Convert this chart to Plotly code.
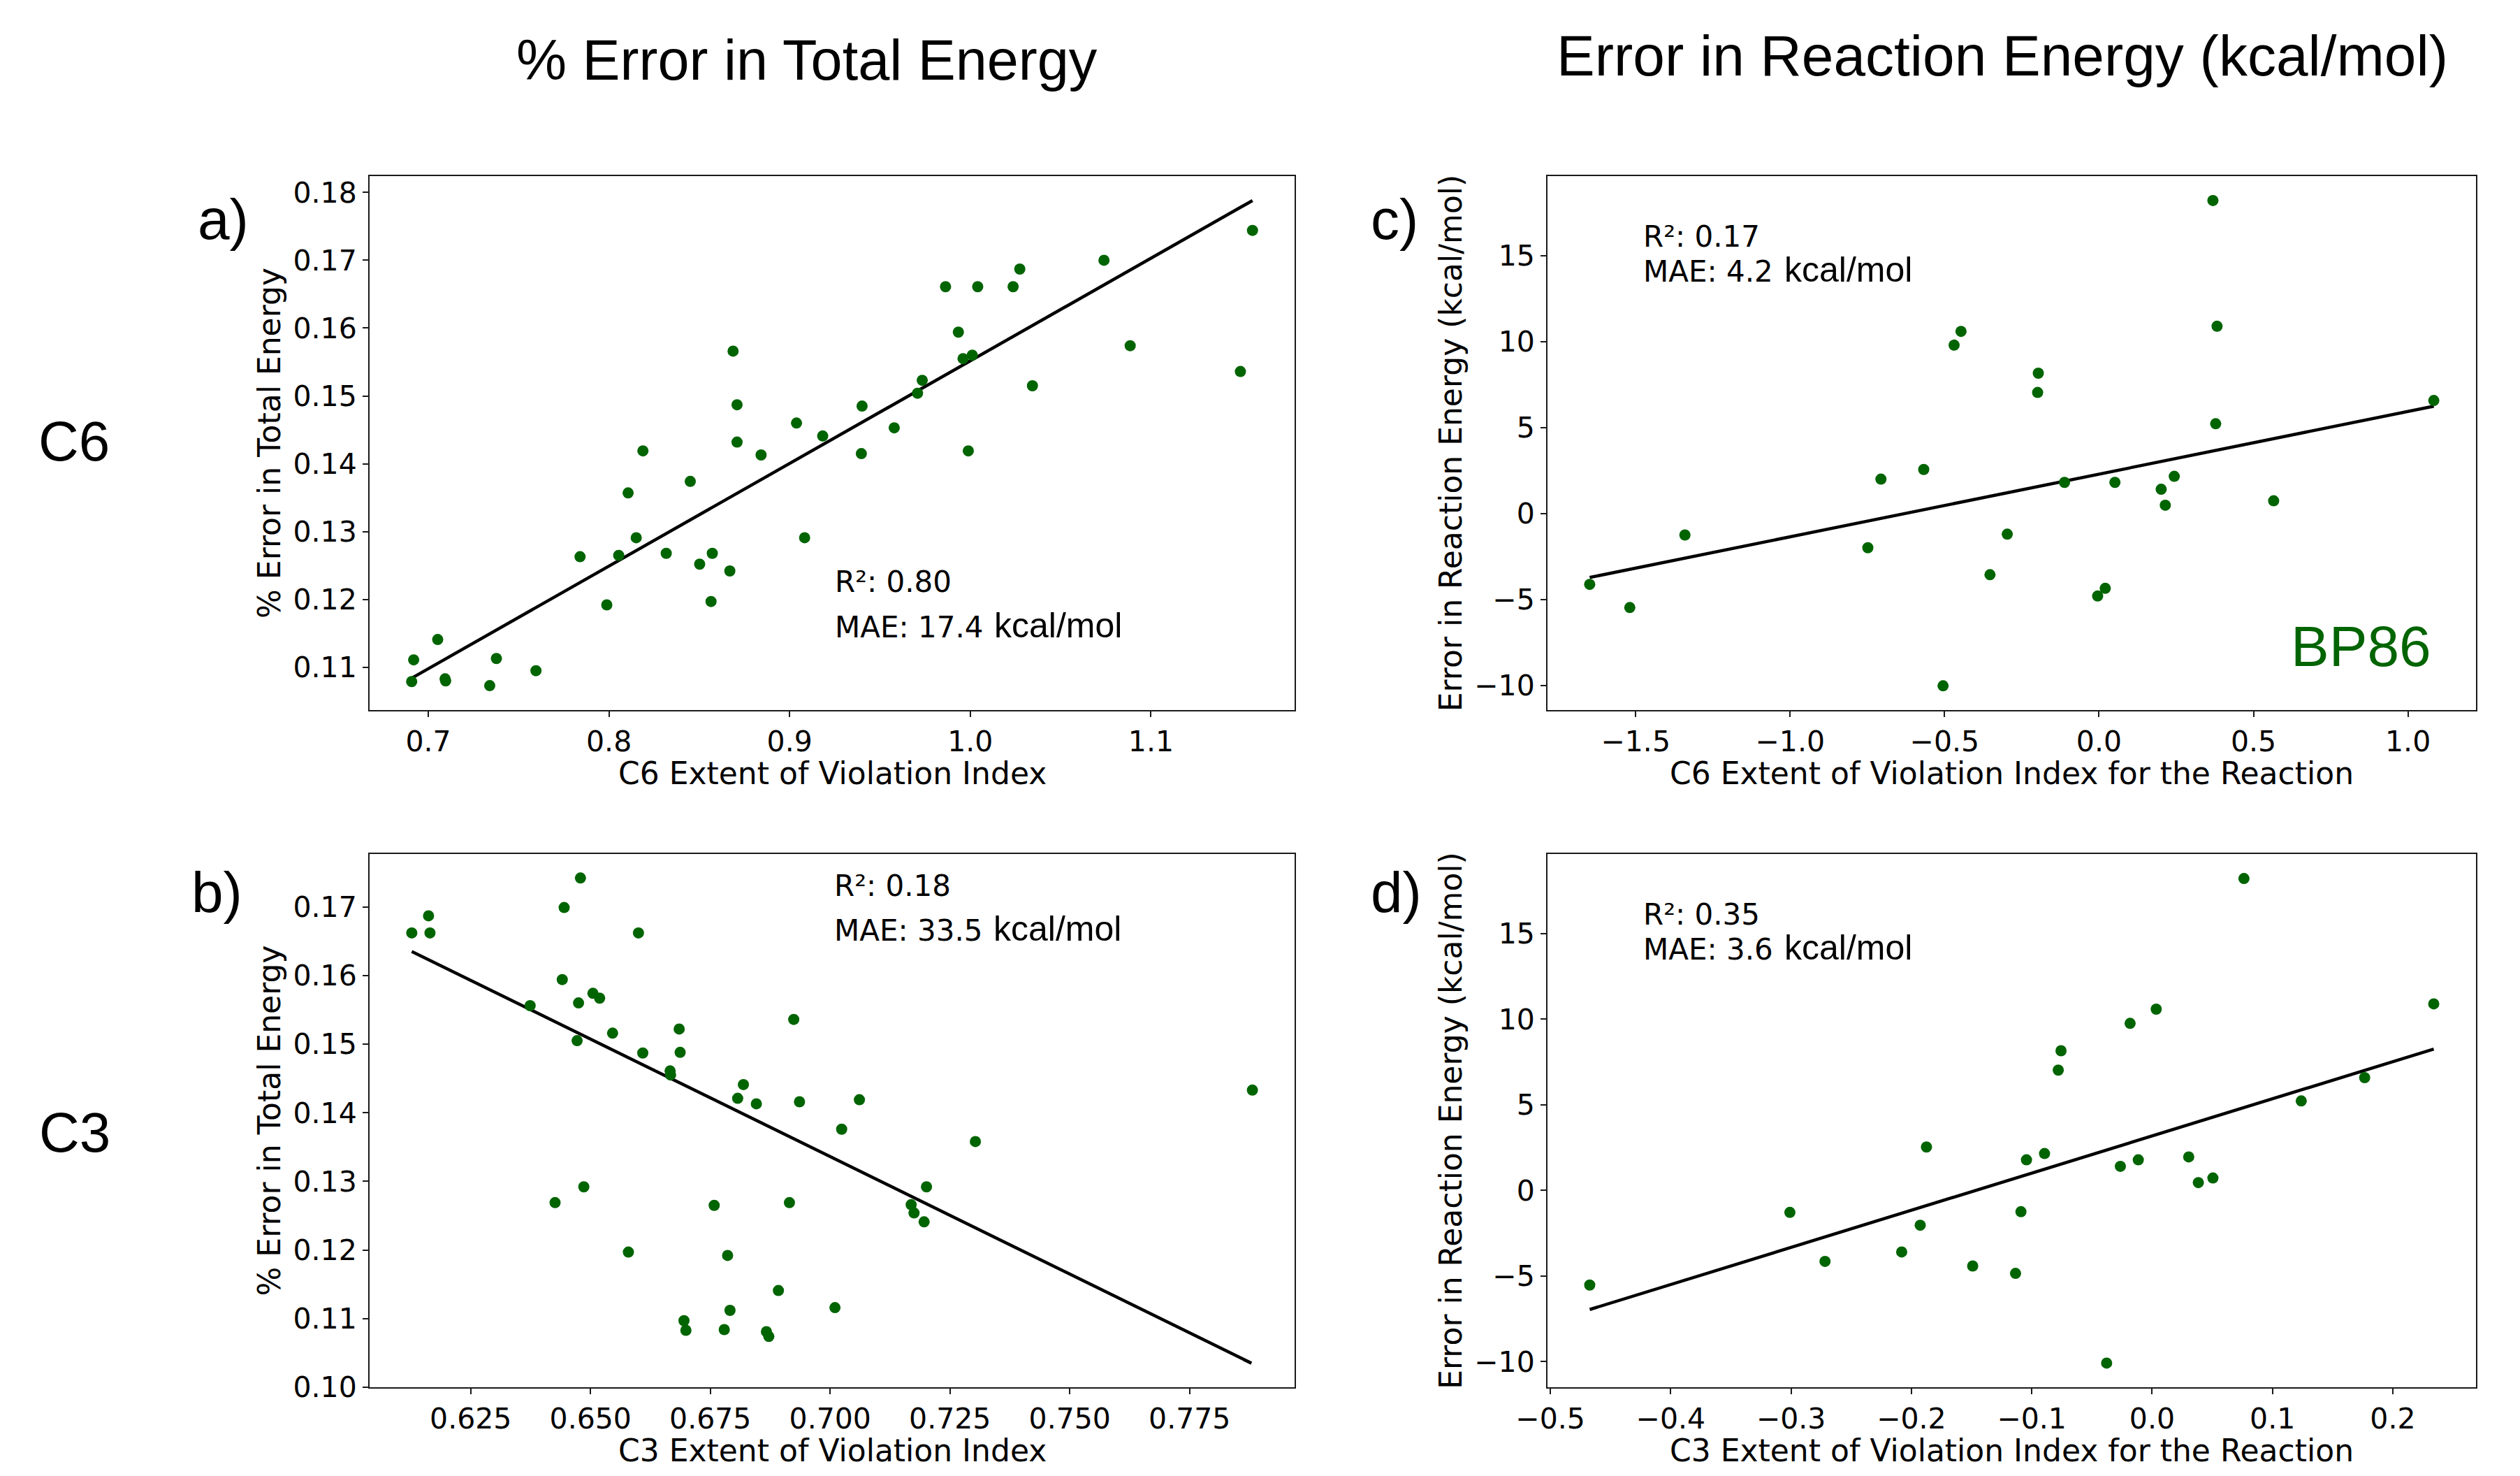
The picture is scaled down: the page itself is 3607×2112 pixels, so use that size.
import plotly.graph_objects as go

W, H = 3607, 2112

# a) C6 extent of violation index vs % error in total energy
c6_evi = [0.6908, 0.6919, 0.7052, 0.7093, 0.7096, 0.7340, 0.7377, 0.7596, 0.7840, 0.7988,
          0.8054, 0.8106, 0.8151, 0.8188, 0.8317, 0.8450, 0.8502, 0.8572, 0.8565, 0.8669,
          0.8687, 0.8709, 0.8709, 0.8842, 0.9038, 0.9083, 0.9183, 0.9401, 0.9397, 0.9579,
          0.9708, 0.9734, 0.9863, 0.9934, 0.9960, 1.0011, 0.9989, 1.0041, 1.0237, 1.0274,
          1.0344, 1.0740, 1.0885, 1.1495, 1.1562]
c6_err = [0.1079, 0.1111, 0.1141, 0.1083, 0.1080, 0.1073, 0.1113, 0.1095, 0.1263, 0.1192,
          0.1265, 0.1357, 0.1291, 0.1419, 0.1268, 0.1374, 0.1252, 0.1268, 0.1197, 0.1242,
          0.1566, 0.1487, 0.1432, 0.1413, 0.1460, 0.1291, 0.1441, 0.1485, 0.1415, 0.1453,
          0.1504, 0.1523, 0.1661, 0.1594, 0.1555, 0.1560, 0.1419, 0.1661, 0.1661, 0.1687,
          0.1515, 0.1700, 0.1574, 0.1536, 0.1744]
c6_fit_x = [0.6908, 1.1562]
c6_fit_y = [0.1084, 0.1788]

# b) C3 extent of violation index vs % error in total energy
c3_evi = [0.6127, 0.6162, 0.6165, 0.6374, 0.6426, 0.6441, 0.6445, 0.6472, 0.6475, 0.6479,
          0.6486, 0.6505, 0.6519, 0.6546, 0.6579, 0.6600, 0.6609, 0.6666, 0.6667, 0.6685,
          0.6687, 0.6695, 0.6699, 0.6758, 0.6779, 0.6786, 0.6791, 0.6807, 0.6819, 0.6846,
          0.6867, 0.6872, 0.6892, 0.6915, 0.6924, 0.6936, 0.7010, 0.7024, 0.7061, 0.7169,
          0.7175, 0.7196, 0.7201, 0.7303, 0.7881]
c3_err = [0.1662, 0.1687, 0.1662, 0.1556, 0.1269, 0.1594, 0.1699, 0.1505, 0.1560, 0.1742,
          0.1292, 0.1574, 0.1567, 0.1516, 0.1197, 0.1662, 0.1487, 0.1461, 0.1455, 0.1522,
          0.1488, 0.1097, 0.1083, 0.1265, 0.1084, 0.1192, 0.1112, 0.1421, 0.1441, 0.1413,
          0.1081, 0.1074, 0.1141, 0.1269, 0.1536, 0.1416, 0.1116, 0.1376, 0.1419, 0.1266,
          0.1254, 0.1241, 0.1292, 0.1358, 0.1433]
c3_fit_x = [0.6127, 0.7879]
c3_fit_y = [0.1635, 0.1035]

# c) C6 reaction index vs error in reaction energy
c6_rxn_evi = [-1.6488, -1.5190, -1.3405, -0.7484, -0.7060, -0.5675, -0.5049, -0.4692, -0.4468,
              -0.3530, -0.2971, -0.1988, -0.1966, -0.1117, -0.0045, 0.0201, 0.0514, 0.2011,
              0.2145, 0.2435, 0.3686, 0.3776, 0.3820, 0.5652, 1.0836]
c6_rxn_err = [-4.11, -5.46, -1.24, -1.98, 2.01, 2.57, -10.01, 9.80, 10.60, -3.55, -1.19, 7.05,
              8.17, 1.82, -4.79, -4.34, 1.82, 1.42, 0.49, 2.17, 18.21, 5.23, 10.90, 0.75, 6.58]
c6_rxn_fit_x = [-1.6488, 1.0836]
c6_rxn_fit_y = [-3.71, 6.25]

# d) C3 reaction index vs error in reaction energy
c3_rxn_evi = [-0.4673, -0.3010, -0.2718, -0.2081, -0.1927, -0.1875, -0.1491, -0.1135, -0.1090,
              -0.1044, -0.0894, -0.0780, -0.0757, -0.0378, -0.0264, -0.0183, -0.0115, 0.0034,
              0.0304, 0.0384, 0.0505, 0.0763, 0.1239, 0.1766, 0.2340]
c3_rxn_err = [-5.52, -1.28, -4.14, -3.59, -2.03, 2.54, -4.41, -4.84, -1.24, 1.79, 2.16, 7.03,
              8.16, -10.08, 1.41, 9.76, 1.79, 10.59, 1.96, 0.46, 0.73, 18.22, 5.23, 6.59, 10.90]
c3_rxn_fit_x = [-0.4673, 0.2340]
c3_rxn_fit_y = [-6.95, 8.26]

stats = {
    "a": ("0.80", "17.4"),
    "b": ("0.18", "33.5"),
    "c": ("0.17", "4.2"),
    "d": ("0.35", "3.6"),
}

GREEN = "#006400"
TICK_FONT = dict(family="DejaVu Sans", size=41, color="black")
TITLE_FONT = dict(family="DejaVu Sans", size=44, color="black")
ARIAL = "Liberation Sans"


def px_x(p):
    return p / W


def px_y(p):
    return 1 - p / H


fig = go.Figure()

panels = [
    # name, xs, ys, fit x, fit y, axis suffix
    ("a", c6_evi, c6_err, c6_fit_x, c6_fit_y, ""),
    ("c", c6_rxn_evi, c6_rxn_err, c6_rxn_fit_x, c6_rxn_fit_y, "2"),
    ("b", c3_evi, c3_err, c3_fit_x, c3_fit_y, "3"),
    ("d", c3_rxn_evi, c3_rxn_err, c3_rxn_fit_x, c3_rxn_fit_y, "4"),
]

for name, xs, ys, fx, fy, sfx in panels:
    fig.add_trace(go.Scatter(x=fx, y=fy, mode="lines",
                             line=dict(color="black", width=4.5),
                             xaxis="x" + sfx, yaxis="y" + sfx, showlegend=False))
    fig.add_trace(go.Scatter(x=xs, y=ys, mode="markers",
                             marker=dict(color=GREEN, size=16, line=dict(width=0)),
                             xaxis="x" + sfx, yaxis="y" + sfx, showlegend=False))

col_x = [(529, 1853), (2215, 3544)]
row_y = [(252, 1016), (1222, 1985)]
xtitle_mid = [1106, 2075]  # vertical centre of the x axis titles, per row


def axis_style(**kw):
    d = dict(showline=True, linecolor="#1a1a1a", linewidth=2, mirror=True,
             ticks="outside", ticklen=8, tickwidth=2, tickcolor="#1a1a1a",
             showgrid=False, zeroline=False, tickfont=TICK_FONT, automargin=False)
    d.update(kw)
    return d


annotations = []


def add_text(text, x, y, size, family=ARIAL, color="black", xanchor="center"):
    annotations.append(dict(text=text, x=px_x(x), y=px_y(y), xref="paper", yref="paper",
                            xanchor=xanchor, yanchor="middle", showarrow=False,
                            font=dict(family=family, size=size, color=color)))


layout_axes = {}
specs = [
    ("", 0, 0, [0.6675, 1.1795], [0.1037, 0.1824], 0.1, ".1f", 0.01, ".2f",
     "C6 Extent of Violation Index", "% Error in Total Energy"),
    ("2", 1, 0, [-1.7854, 1.2202], [-11.42, 19.63], 0.5, ".1f", 5, "d",
     "C6 Extent of Violation Index for the Reaction", "Error in Reaction Energy (kcal/mol)"),
    ("3", 0, 1, [0.6039, 0.7969], [0.1000, 0.1777], 0.025, ".3f", 0.01, ".2f",
     "C3 Extent of Violation Index", "% Error in Total Energy"),
    ("4", 1, 1, [-0.5024, 0.2691], [-11.49, 19.65], 0.1, ".1f", 5, "d",
     "C3 Extent of Violation Index for the Reaction", "Error in Reaction Energy (kcal/mol)"),
]
for sfx, ci, ri, xr, yr, xd, xf, yd, yf, xt, yt in specs:
    x0, x1 = col_x[ci]
    y0, y1 = row_y[ri]
    layout_axes["xaxis" + sfx] = axis_style(
        domain=[px_x(x0), px_x(x1)], range=xr, dtick=xd, tick0=0, tickformat=xf,
        anchor="y" + sfx)
    layout_axes["yaxis" + sfx] = axis_style(
        domain=[px_y(y1), px_y(y0)], range=yr, dtick=yd, tick0=0, tickformat=yf,
        anchor="x" + sfx, title=dict(text=yt, font=TITLE_FONT, standoff=4))
    add_text(xt, (x0 + x1) / 2, xtitle_mid[ri], 44, family="DejaVu Sans")

fig.update_layout(**layout_axes)

# column headings and row labels
add_text("% Error in Total Energy", 1155, 86, 81)
add_text("Error in Reaction Energy (kcal/mol)", 2866, 80, 82)
add_text("C6", 106, 631, 80)
add_text("C3", 107, 1620, 80)

# panel letters
add_text("a)", 281, 313, 82, xanchor="left")
add_text("b)", 272, 1276, 82, xanchor="left")
add_text("c)", 1960, 313, 82, xanchor="left")
add_text("d)", 1960, 1276, 82, xanchor="left")

# fit statistics: text left, R² baseline, MAE baseline, "kcal/mol" left
stat_pos = {
    "a": (1193, 847, 912, 1421),
    "b": (1192, 1282, 1346, 1420),
    "c": (2350, 353, 403, 2552),
    "d": (2350, 1323, 1373, 2552),
}
for key, (x, b1, b2, xu) in stat_pos.items():
    r2, mae = stats[key]
    add_text(f"R²: {r2}", x, b1 - 15, 42, family="DejaVu Sans", xanchor="left")
    add_text(f"MAE: {mae}", x, b2 - 15, 42, family="DejaVu Sans", xanchor="left")
    add_text("kcal/mol", xu, b2 - 17, 50, xanchor="left")

add_text("BP86", 3277, 924, 82, color=GREEN, xanchor="left")

fig.update_layout(
    annotations=annotations,
    width=W, height=H,
    margin=dict(l=0, r=0, t=0, b=0, autoexpand=False),
    plot_bgcolor="white", paper_bgcolor="white",
    showlegend=False,
)

fig.write_html("out.html", config={"displayModeBar": False},
               post_script="document.body.style.margin = '0px';")
